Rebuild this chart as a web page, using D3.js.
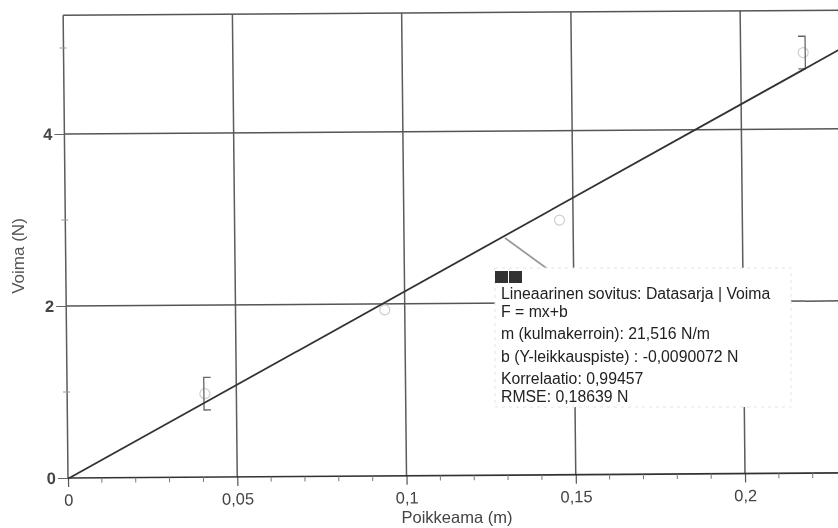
<!DOCTYPE html>
<html><head><meta charset="utf-8">
<script src="https://cdn.jsdelivr.net/npm/d3@7/dist/d3.min.js"></script>
<style>html,body{margin:0;padding:0;background:#fff}svg{display:block}text{font-family:"Liberation Sans",Arial,sans-serif}</style>
</head><body><svg id="c" width="838" height="528"></svg>
<script>
const pointX = [0.0407, 0.0941, 0.146, 0.2185];
const pointF = [0.97, 1.93, 2.96, 4.89];
const errorPoints = [0, 3];
const errorSide = [-1, 1];
const errorHalf = 0.19;
const xMajor = [0, 0.05, 0.1, 0.15, 0.2];
const xMinor = [0.01,0.02,0.03,0.04,0.06,0.07,0.08,0.09,0.11,0.12,0.13,0.14,0.16,0.17,0.18,0.19,0.21,0.22];
const yMajor = [0, 2, 4];
const yMinor = [1, 3, 5];
const slope = 21.516, intercept = -0.0090072;
const fitX = [0, 0.23];
const xTitle = "Poikkeama (m)", yTitle = "Voima (N)";
const noteLines = ["Lineaarinen sovitus: Datasarja | Voima","F = mx+b","m (kulmakerroin): 21,516 N/m","b (Y-leikkauspiste) : -0,0090072 N","Korrelaatio: 0,99457","RMSE: 0,18639 N"];
const noteLineY = [299, 317, 339, 362, 384, 402];

const svg = d3.select("#c");
const defs = svg.append("defs");
defs.append("filter").attr("id","scan").attr("x","-5%").attr("y","-5%").attr("width","110%").attr("height","110%")
  .append("feGaussianBlur").attr("stdDeviation",0.5);
const root = svg.append("g").attr("filter","url(#scan)");

const fmt = d => String(d).replace(".", ",");
const x = d3.scaleLinear().domain([0,0.2]).range([0,677]);
const y = d3.scaleLinear().domain([0,4]).range([0,-344]);
const plotW = x(fitX[1]), plotTop = y(5.38);

const g = root.append("g").attr("transform","matrix(1,-0.0066,0.0105,1,68,478)");

// vertical gridlines and major ticks
const xAxis = d3.axisBottom(x).tickValues(xMajor).tickFormat(fmt).tickSize(9).tickPadding(7);
const xG = g.append("g").call(xAxis);
xG.select(".domain").remove();
xG.selectAll(".tick text").attr("font-size",16.5).attr("fill","#444").style("font-family","'Liberation Sans'");
xG.selectAll(".tick line").attr("stroke","#555").attr("stroke-width",1.2);
g.append("g").selectAll("line").data(xMajor).join("line")
  .attr("x1",x).attr("x2",x).attr("y1",0).attr("y2",plotTop)
  .attr("stroke","#5c5c5c").attr("stroke-width",1.5);

// horizontal gridlines
g.append("g").selectAll("line").data(yMajor.slice(1)).join("line")
  .attr("x1",0).attr("x2",plotW).attr("y1",y).attr("y2",y)
  .attr("stroke","#555").attr("stroke-width",1.5);
g.append("line").attr("x1",0).attr("x2",plotW).attr("y1",plotTop).attr("y2",plotTop)
  .attr("stroke","#555").attr("stroke-width",1.5);
g.append("line").attr("x1",0).attr("x2",plotW).attr("y1",0).attr("y2",0)
  .attr("stroke","#333").attr("stroke-width",1.7);

// y axis labels + ticks
const yAxis = d3.axisLeft(y).tickValues(yMajor).tickFormat(fmt).tickSize(10).tickPadding(2);
const yG = g.append("g").call(yAxis);
yG.select(".domain").remove();
yG.selectAll(".tick text").attr("font-size",16.5).attr("font-weight","bold").attr("fill","#444").style("font-family","'Liberation Sans'");
yG.selectAll(".tick line").attr("stroke","#666");

// minor ticks
g.append("g").selectAll("line").data(xMinor).join("line")
  .attr("x1",x).attr("x2",x).attr("y1",0).attr("y2",5).attr("stroke","#777").attr("stroke-width",1);
g.append("g").selectAll("line").data(yMinor).join("line")
  .attr("x1",-4).attr("x2",3).attr("y1",y).attr("y2",y).attr("stroke","#999").attr("stroke-width",1);

// data circles
g.append("g").selectAll("circle").data(pointX).join("circle")
  .attr("cx",d=>x(d)).attr("cy",(d,i)=>y(pointF[i])).attr("r",5)
  .attr("fill","none").attr("stroke","#cfcfcf").attr("stroke-width",1.2);

// error brackets
const bracket = (i,k) => {
  const px = x(pointX[i]), t = y(pointF[i]+errorHalf), b = y(pointF[i]-errorHalf), s = errorSide[k];
  const vx = px + (s>0?2:-1), cx = vx - s*7;
  return `M${cx},${t}L${vx},${t}L${vx},${b}L${cx},${b}`;
};
g.append("g").selectAll("path").data(errorPoints).join("path")
  .attr("d",(d,k)=>bracket(d,k)).attr("fill","none").attr("stroke","#666").attr("stroke-width",1.3);

// fit line
const line = d3.line().x(d=>x(d)).y(d=>y(slope*d+intercept));
g.append("path").datum(fitX).attr("d",line).attr("fill","none").attr("stroke","#333").attr("stroke-width",1.8);

// axis titles
root.append("text").attr("x",457).attr("y",523).attr("text-anchor","middle").attr("font-size",16.5).attr("fill","#444").text(xTitle);
root.append("text").attr("transform","translate(24,256) rotate(-90)").attr("text-anchor","middle").attr("font-size",17).attr("fill","#555").text(yTitle);

// annotation
root.append("line").attr("x1",505).attr("y1",238).attr("x2",549).attr("y2",270).attr("stroke","#999").attr("stroke-width",1.6);
root.append("rect").attr("x",495).attr("y",268).attr("width",296).attr("height",139)
  .attr("fill","#fff").attr("stroke","#e4e4e4").attr("stroke-dasharray","3 4");
[495,509].forEach(px=>root.append("rect").attr("x",px).attr("y",271).attr("width",13).attr("height",12).attr("fill","#333"));
root.append("g").selectAll("text").data(noteLines).join("text")
  .attr("x",501).attr("y",(d,i)=>noteLineY[i]).attr("font-size",15.8).attr("fill","#222").text(d=>d);
</script></body></html>
